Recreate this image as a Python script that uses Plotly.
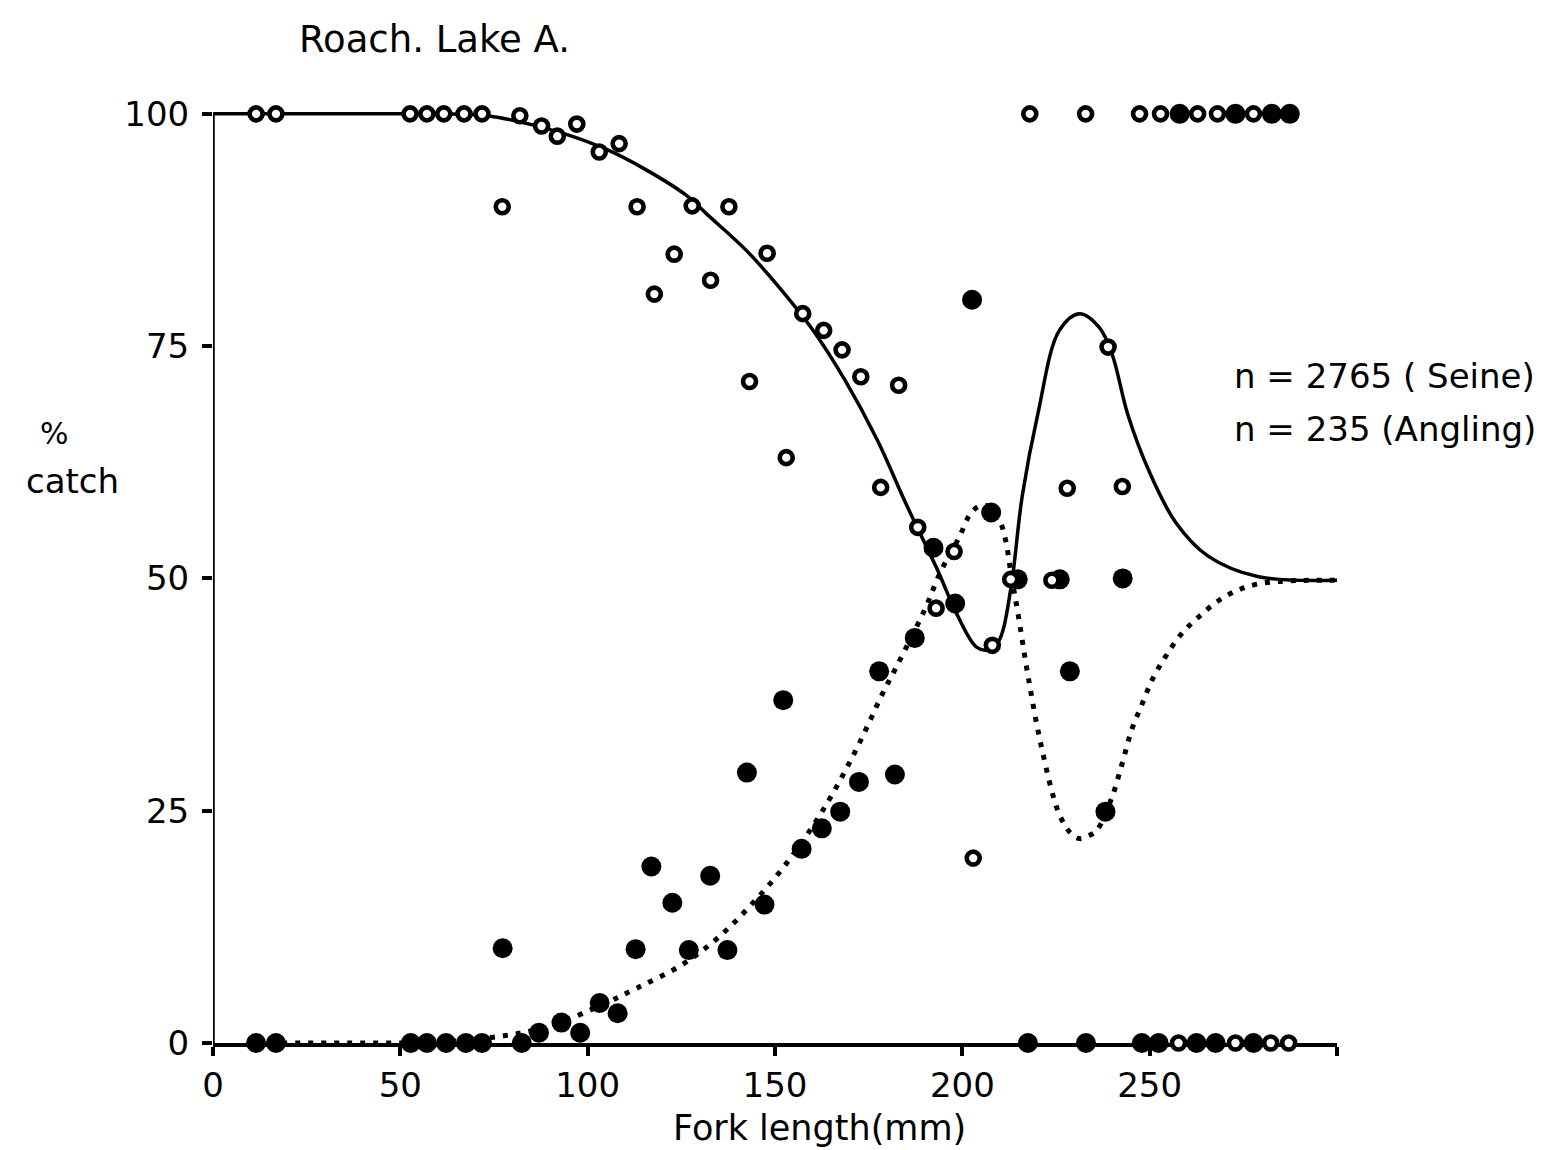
import plotly.graph_objects as go


# =====================================================
# DATA
# =====================================================

# open circles: seine catch, % of catch per length class
seine_len = [
    11.5, 16.8, 52.6, 57.1, 61.6, 67.0, 71.8, 77.2, 81.9, 87.7,
    91.9, 97.1, 103.1, 108.4, 113.2, 117.8, 123.1, 127.9, 132.8, 137.7,
    143.2, 147.9, 153.0, 157.4, 163.0, 167.9, 172.9, 178.2, 183.0, 188.1,
    193.0, 197.8, 202.9, 208.0, 212.9, 218.0, 223.9, 228.0, 232.9, 238.9,
    242.7, 247.3, 252.9, 257.7, 262.8, 268.1, 272.9, 277.7, 282.3, 287.1
]
seine_pct = [
    100, 100, 100, 100, 100, 100, 100, 90.0, 99.8, 98.7,
    97.6, 98.9, 95.9, 96.8, 90.0, 80.6, 84.9, 90.1, 82.1, 90.0,
    71.2, 85.0, 63.0, 78.5, 76.7, 74.6, 71.7, 59.8, 70.8, 55.5,
    46.8, 52.9, 19.9, 42.8, 49.9, 100, 49.8, 59.7, 100, 74.9,
    59.9, 100, 100, 0, 100, 100, 0, 100, 0, 0
]

# filled circles: angling catch
angling_len = [
    11.5, 16.8, 52.8, 57.1, 62.2, 67.5, 71.8, 77.3, 82.4, 87.0,
    93.0, 98.0, 103.2, 108.0, 112.8, 117.0, 122.6, 127.0, 132.7, 137.3,
    142.5, 147.2, 152.2, 157.1, 162.5, 167.4, 172.4, 177.8, 182.0, 187.3,
    192.3, 198.1, 202.6, 207.7, 214.8, 217.5, 226.0, 228.7, 233.0, 238.2,
    242.8, 247.9, 252.4, 258.0, 262.5, 267.6, 272.9, 277.7, 282.6, 287.4
]
angling_pct = [
    0, 0, 0, 0, 0, 0, 0, 10.2, 0, 1.1,
    2.2, 1.1, 4.3, 3.2, 10.1, 19.0, 15.1, 10.0, 18.0, 10.0,
    29.1, 14.9, 36.9, 20.9, 23.1, 24.9, 28.1, 40.0, 28.9, 43.6,
    53.3, 47.3, 80.0, 57.1, 49.9, 0, 49.9, 40.0, 0, 24.9,
    50.0, 0, 0, 100, 0, 0, 100, 0, 100, 100
]

# fitted curves (solid = seine, dotted = angling)
seine_fit_len = [
    0, 30, 60, 73.1, 84.5, 94.3, 104.9, 115.5, 126.1,
    132.1, 142.6, 151.4, 160.0, 168.6, 177.3, 185.0, 193.5, 198.6, 203.8,
    206.9, 209.9, 212.9, 216.0, 220.2, 225.9, 231.3, 236.6, 240.0, 244.2,
    250.0, 257.0, 265.6, 278.8, 300
]
seine_fit_pct = [
    100, 100, 100, 99.8, 98.9, 97.8, 96.2, 94.0, 91.3,
    89.1, 85.2, 81.2, 76.8, 71.4, 64.9, 58.0, 50.8, 46.1, 42.6,
    42.3, 43.4, 48.8, 58.9, 67.8, 76.7, 78.5, 77.0, 74.1, 67.6,
    61.4, 56.0, 52.4, 50.2, 49.8
]

angling_fit_len = [
    11.5, 40, 60, 76.3, 89.7, 103.2, 113.1, 125.5, 134.7, 143.7,
    152.8, 162.1, 171.2, 178.7, 182.3, 189.8, 194.3, 199.0, 202.6, 205.8,
    209.7, 211.5, 213.0, 214.9, 217.5, 221.1, 225.8, 228.9, 231.3, 233.7,
    235.9, 239.8, 242.6, 245.2, 248.0, 250.8, 254.1, 258.2, 263.2, 269.9,
    278.8, 300
]
angling_fit_pct = [
    0, 0, 0.1, 0.7, 1.8, 4.0, 5.9, 8.5, 11.3, 14.9,
    19.2, 24.6, 31.2, 37.6, 40.4, 46.5, 50.8, 54.3, 57.2, 57.9,
    56.4, 54.2, 50.5, 46.1, 39.6, 31.9, 24.7, 22.6, 22.0, 22.3,
    22.9, 26.3, 30.0, 33.7, 36.5, 39.2, 41.5, 43.9, 45.9, 48.0,
    49.4, 49.8
]

x_ticks = [0, 50, 100, 150, 200, 250, 300]
x_tick_text = ["0", "50", "100", "150", "200", "250", ""]
y_ticks = [0, 25, 50, 75, 100]


# =====================================================
# LAYOUT HELPERS
# =====================================================

W, H = 1561, 1150
ML, MR, MT, MB = 205, 232, 78, 115
PW = W - ML - MR
PH = H - MT - MB
FONT = "DejaVu Sans"


def paper(px, py):
    return (px - ML) / PW, (H - MB - py) / PH


def label(text, px, py, size, xanchor="center"):
    x, y = paper(px, py)
    return dict(
        text=text, x=x, y=y, xref="paper", yref="paper",
        xanchor=xanchor, yanchor="middle", showarrow=False,
        font=dict(family=FONT, size=size, color="black")
    )


# =====================================================
# FIGURE
# =====================================================

fig = go.Figure()

fig.add_trace(go.Scatter(
    x=angling_fit_len, y=angling_fit_pct, mode="lines",
    line=dict(color="black", width=5, dash="5px,8px",
              shape="spline", smoothing=1.0),
    showlegend=False, hoverinfo="skip"
))

fig.add_trace(go.Scatter(
    x=seine_fit_len, y=seine_fit_pct, mode="lines",
    line=dict(color="black", width=3.5, shape="spline", smoothing=1.0),
    showlegend=False, hoverinfo="skip"
))

fig.add_trace(go.Scatter(
    x=angling_len, y=angling_pct, mode="markers",
    marker=dict(symbol="circle", size=20, color="black",
                line=dict(width=0)),
    cliponaxis=False, showlegend=False, name="Angling"
))

fig.add_trace(go.Scatter(
    x=seine_len, y=seine_pct, mode="markers",
    marker=dict(symbol="circle", size=13, color="white",
                line=dict(width=4.6, color="black")),
    cliponaxis=False, showlegend=False, name="Seine"
))

# y axis line only up to 100
fig.add_shape(
    type="line", xref="x", yref="y", x0=0, x1=0, y0=0, y1=100,
    line=dict(color="black", width=3.5), layer="below"
)

fig.update_layout(
    width=W, height=H,
    margin=dict(l=ML, r=MR, t=MT, b=MB),
    paper_bgcolor="white",
    plot_bgcolor="white",
    font=dict(family=FONT, size=33, color="black"),
    annotations=[
        label("Roach. Lake A.", 426, 32, 37),
        label("%", 46, 425, 30),
        label("catch", 64, 473, 34),
        label("Fork length(mm)", 811, 1120, 35),
        label("n = 2765 ( Seine)", 1224, 368, 34, "left"),
        label("n = 235 (Angling)", 1224, 421, 34, "left"),
    ]
)

fig.update_xaxes(
    range=[0, 300],
    tickvals=x_ticks, ticktext=x_tick_text,
    ticks="outside", ticklen=9, tickwidth=3.5, tickcolor="black",
    showline=True, linewidth=3.5, linecolor="black",
    showgrid=False, zeroline=False,
    layer="below traces",
    tickfont=dict(family=FONT, size=34),
    ticklabelstandoff=0
)

fig.update_yaxes(
    range=[0, 103],
    tickvals=y_ticks,
    ticks="outside", ticklen=10, tickwidth=3.5, tickcolor="black",
    showline=False, showgrid=False, zeroline=False,
    layer="below traces",
    tickfont=dict(family=FONT, size=34),
    ticklabelstandoff=6
)

fig.write_html("out.html")
